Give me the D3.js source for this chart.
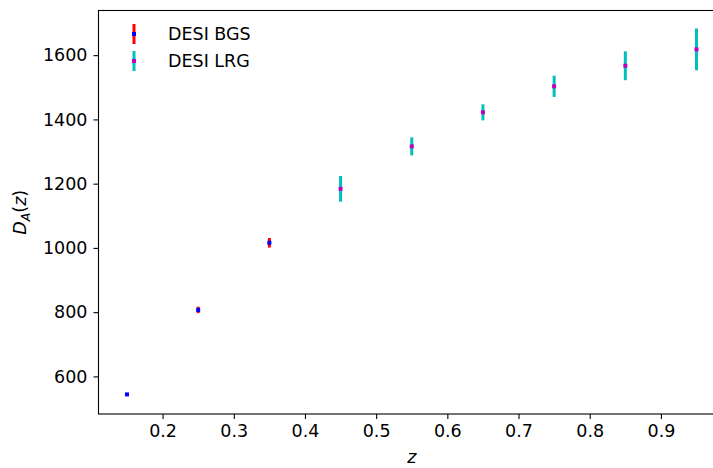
<!DOCTYPE html>
<html>
<head>
<meta charset="utf-8">
<script src="https://cdn.jsdelivr.net/npm/d3@7"></script>
<style>
  body { margin: 0; background: #fff; overflow: hidden; }
  svg { display: block; }
  svg text { font-family: "DejaVu Sans", sans-serif; fill: #000; }
</style>
</head>
<body>
<div id="chart"></div>
<script>
(function () {
  // DESI BGS forecast
  var bgsZ = [0.15, 0.25, 0.35];
  var bgsDA = [544, 807, 1016];
  var bgsErr = [4, 10, 15];

  // DESI LRG forecast
  var lrgZ = [0.45, 0.55, 0.65, 0.75, 0.85, 0.95];
  var lrgDA = [1184, 1316, 1422, 1503, 1567, 1618];
  var lrgErr = [40, 28, 25, 33, 45, 65];

  var xTicks = [0.2, 0.3, 0.4, 0.5, 0.6, 0.7, 0.8, 0.9];
  var yTicks = [600, 800, 1000, 1200, 1400, 1600];

  var width = 713;
  var height = 468;
  var margin = {left: 98.5, top: 10.5, right: -12, bottom: 54};

  var svg = d3.select('#chart').append('svg')
      .attr('width', width)
      .attr('height', height);

  var x = d3.scaleLinear()
      .domain([0.11, 0.99])
      .range([margin.left, width - margin.right]);

  var y = d3.scaleLinear()
      .domain([483, 1739])
      .range([height - margin.bottom, margin.top]);

  function series(zs, vals, errs) {
    return zs.map(function (z, i) {
      return {z: z, v: vals[i], e: errs[i]};
    });
  }

  function drawSeries(data, barColor, markColor) {
    var g = svg.append('g');
    g.selectAll('line')
        .data(data)
        .enter().append('line')
        .attr('x1', function (d) { return x(d.z); })
        .attr('x2', function (d) { return x(d.z); })
        .attr('y1', function (d) { return y(d.v - d.e); })
        .attr('y2', function (d) { return y(d.v + d.e); })
        .attr('stroke', barColor)
        .attr('stroke-width', 3);
    g.selectAll('rect')
        .data(data)
        .enter().append('rect')
        .attr('x', function (d) { return x(d.z) - 2; })
        .attr('y', function (d) { return y(d.v) - 2; })
        .attr('width', 4)
        .attr('height', 4)
        .attr('fill', markColor);
  }

  drawSeries(series(bgsZ, bgsDA, bgsErr), '#ff0000', '#0000ff');
  drawSeries(series(lrgZ, lrgDA, lrgErr), '#00bfbf', '#bf00bf');

  // axes
  var xAxis = d3.axisBottom(x).tickValues(xTicks).tickSize(5).tickPadding(6)
      .tickFormat(d3.format('.1f'));
  var yAxis = d3.axisLeft(y).tickValues(yTicks).tickSize(5).tickPadding(6)
      .tickFormat(d3.format('d'));

  var gx = svg.append('g')
      .attr('transform', 'translate(0,' + (height - margin.bottom) + ')')
      .call(xAxis);
  var gy = svg.append('g')
      .attr('transform', 'translate(' + margin.left + ',0)')
      .call(yAxis);

  [gx, gy].forEach(function (g) {
    g.selectAll('text').style('font-size', '17.5px');
    g.selectAll('line').attr('stroke', '#000').attr('stroke-width', 1.1);
    g.select('.domain').remove();
  });

  // frame
  svg.append('rect')
      .attr('x', margin.left)
      .attr('y', margin.top)
      .attr('width', width - margin.right - margin.left)
      .attr('height', height - margin.bottom - margin.top)
      .attr('fill', 'none')
      .attr('stroke', '#000')
      .attr('stroke-width', 1.1);

  // axis labels
  svg.append('text')
      .attr('x', x(0.55))
      .attr('y', 463)
      .attr('text-anchor', 'middle')
      .style('font-size', '17.5px')
      .style('font-style', 'italic')
      .text('z');

  var yl = svg.append('text')
      .attr('transform', 'translate(26,' + y(1111) + ') rotate(-90)')
      .attr('text-anchor', 'middle')
      .style('font-size', '17.5px');
  yl.append('tspan').style('font-style', 'italic').text('D');
  yl.append('tspan').style('font-style', 'italic').style('font-size', '12.5px')
      .attr('dy', 4).text('A');
  yl.append('tspan').attr('dy', -4).text('(');
  yl.append('tspan').style('font-style', 'italic').text('z');
  yl.append('tspan').text(')');

  // legend
  var legend = [
    {label: 'DESI BGS', bar: '#ff0000', mark: '#0000ff'},
    {label: 'DESI LRG', bar: '#00bfbf', mark: '#bf00bf'}
  ];
  var lg = svg.append('g').selectAll('g')
      .data(legend)
      .enter().append('g')
      .attr('transform', function (d, i) {
        return 'translate(134,' + (34 + i * 27) + ')';
      });
  lg.append('line')
      .attr('y1', -10).attr('y2', 10)
      .attr('stroke', function (d) { return d.bar; })
      .attr('stroke-width', 3);
  lg.append('rect')
      .attr('x', -2).attr('y', -2).attr('width', 4).attr('height', 4)
      .attr('fill', function (d) { return d.mark; });
  lg.append('text')
      .attr('x', 34)
      .attr('dy', '0.35em')
      .style('font-size', '17.5px')
      .text(function (d) { return d.label; });
}());
</script>
</body>
</html>
